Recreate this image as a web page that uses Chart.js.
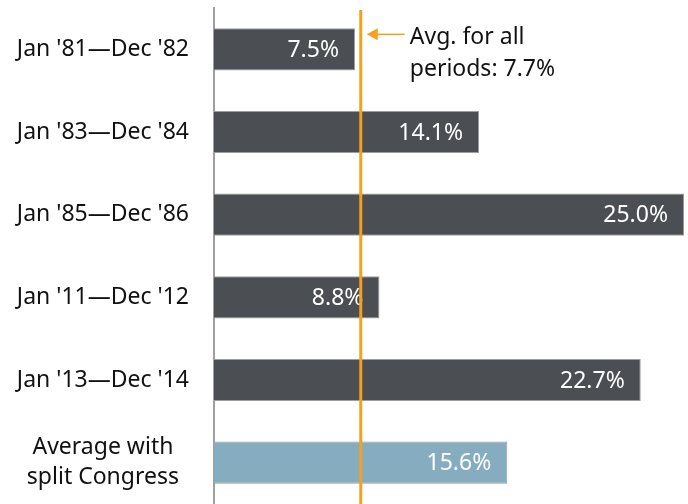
<!DOCTYPE html>
<html>
<head>
<meta charset="utf-8">
<script src="https://cdn.jsdelivr.net/npm/chart.js@4"></script>
<style>
  html, body { margin: 0; padding: 0; background: #fff; overflow: hidden; }
  #wrap { width: 688px; height: 504px; }
</style>
</head>
<body>
<div id="wrap"><canvas id="splitChart" width="688" height="504"></canvas></div>
<script>
// Datos del gráfico
const periodos = ["Jan '81\u2014Dec '82", "Jan '83\u2014Dec '84", "Jan '85\u2014Dec '86", "Jan '11\u2014Dec '12", "Jan '13\u2014Dec '14", ['Average with', 'split Congress']];
const rendimientos = [7.5, 14.1, 25.0, 8.8, 22.7, 15.6];
const promedioTodos = 7.7;
const notaPromedio = ['Avg. for all', 'periods: 7.7%'];

const gris = '#4b4e53';
const azul = '#86adbf';
const naranja = '#f6a01b';
const fuente = "'Noto Sans', sans-serif";

const colores = rendimientos.map((v, i) => i === rendimientos.length - 1 ? azul : gris);

// Etiquetas dentro de las barras + linea del promedio con su nota
const extras = {
    id: 'extras',
    afterDatasetsDraw(chart) {
        const ctx = chart.ctx;
        const meta = chart.getDatasetMeta(0);
        ctx.save();
        ctx.font = '23px ' + fuente;
        ctx.fillStyle = '#fff';
        ctx.textAlign = 'right';
        ctx.textBaseline = 'middle';
        meta.data.forEach((bar, i) => {
            ctx.fillText(rendimientos[i].toFixed(1) + '%', bar.x - 16, bar.y + 1);
        });

        // linea vertical del promedio
        const x = chart.scales.x.getPixelForValue(promedioTodos) + 2;
        const area = chart.chartArea;
        ctx.strokeStyle = naranja;
        ctx.lineWidth = 3;
        ctx.beginPath();
        ctx.moveTo(x, area.top + 2);
        ctx.lineTo(x, chart.height);
        ctx.stroke();

        // flecha
        const ya = meta.data[0].y - 15;
        ctx.lineWidth = 1.5;
        ctx.beginPath();
        ctx.moveTo(x + 44, ya);
        ctx.lineTo(x + 14, ya);
        ctx.stroke();
        ctx.fillStyle = naranja;
        ctx.beginPath();
        ctx.moveTo(x + 6, ya);
        ctx.lineTo(x + 17, ya - 6);
        ctx.lineTo(x + 17, ya + 6);
        ctx.closePath();
        ctx.fill();

        ctx.fillStyle = '#111';
        ctx.textAlign = 'left';
        ctx.font = '23px ' + fuente;
        ctx.fillText(notaPromedio[0], x + 49, ya + 3);
        ctx.fillText(notaPromedio[1], x + 49, ya + 35);
        ctx.restore();
    }
};

new Chart(document.getElementById('splitChart'), {
    type: 'bar',
    data: {
        labels: periodos,
        datasets: [{
            data: rendimientos,
            backgroundColor: colores,
            borderColor: '#9a9ca0',
            borderWidth: { top: 1, bottom: 1, right: 1, left: 0 },
            borderSkipped: false,
            categoryPercentage: 1,
            barPercentage: 0.51
        }]
    },
    options: {
        indexAxis: 'y',
        responsive: false,
        animation: false,
        layout: { padding: { top: 8, right: 4, bottom: -2, left: 0 } },
        plugins: {
            legend: { display: false },
            tooltip: { enabled: false }
        },
        scales: {
            x: {
                display: false,
                min: 0,
                max: 25
            },
            y: {
                afterFit(scale) {
                    scale.width = 214;
                    scale.paddingTop = 0;
                    scale.paddingBottom = 0;
                },
                grid: { display: false, drawTicks: false },
                border: { display: true, color: '#a0a0a0', width: 2 },
                ticks: {
                    color: '#111',
                    crossAlign: 'center',
                    padding: 25,
                    font: { family: fuente, size: 23, lineHeight: 1.3 }
                }
            }
        }
    },
    plugins: [extras]
});
</script>
</body>
</html>
